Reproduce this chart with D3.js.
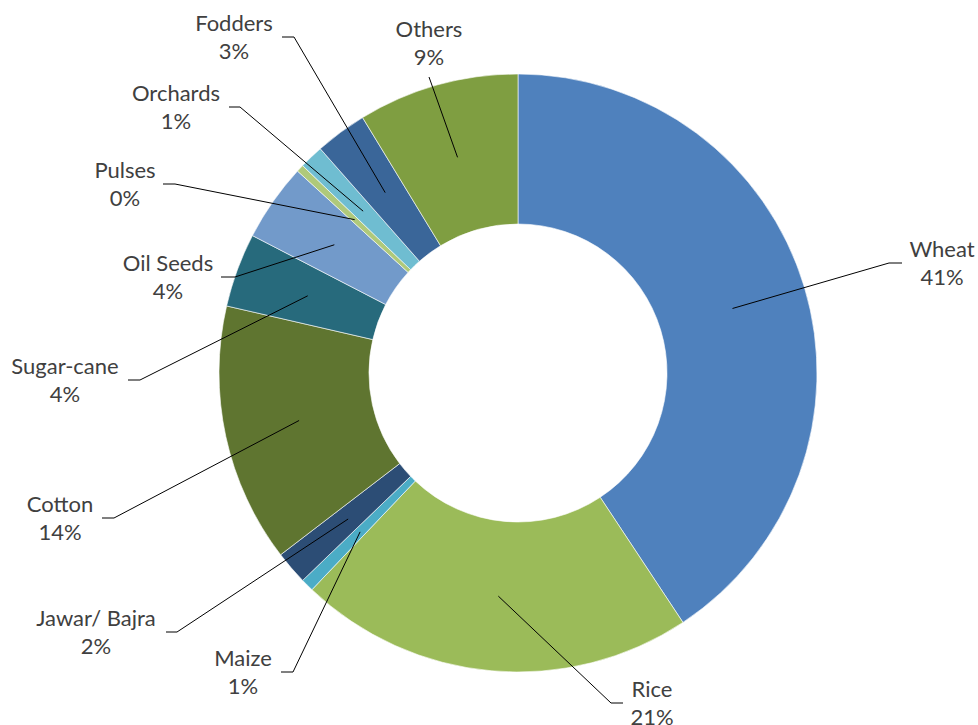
<!DOCTYPE html>
<html>
<head>
<meta charset="utf-8">
<script src="https://cdn.jsdelivr.net/npm/d3@7"></script>
<style>
  html, body { margin: 0; padding: 0; background: #fff; }
  svg { display: block; }
  text { font-family: Lato, "Open Sans", sans-serif; }
</style>
</head>
<body>
<svg id="chart" width="978" height="725"></svg>
<script>
// ---- data ----
const categories = ["Wheat", "Rice", "Maize", "Jawar/ Bajra", "Cotton", "Sugar-cane",
                    "Oil Seeds", "Pulses", "Orchards", "Fodders", "Others"];
const values = [40.7, 21.4, 0.7, 1.8, 14.0, 4.0, 4.2, 0.4, 1.3, 2.8, 8.7];
const colors = ["#4F81BD", "#9BBB59", "#4BACC6", "#2C4D75", "#5F7530", "#276A7C",
                "#729ACA", "#AFC97A", "#6FBDD1", "#3A6699", "#7F9E41"];

// ---- label layout (elbow point, end of horizontal tick, text centre x, first baseline) ----
const labelLayout = [
  {ex: 889, ey: 263, hx: 902, tx: 942, ty: 257},
  {ex: 611, ey: 703, hx: 623, tx: 652, ty: 697},
  {ex: 293, ey: 672, hx: 281, tx: 243, ty: 666},
  {ex: 177, ey: 632, hx: 166, tx: 96,  ty: 626},
  {ex: 114, ey: 518, hx: 102, tx: 60,  ty: 512},
  {ex: 140, ey: 380, hx: 128, tx: 65,  ty: 374},
  {ex: 235, ey: 277, hx: 221, tx: 168, ty: 271},
  {ex: 175, ey: 184, hx: 163, tx: 125, ty: 178},
  {ex: 240, ey: 107, hx: 229, tx: 176, ty: 101},
  {ex: 294, ey: 37,  hx: 282, tx: 234, ty: 31},
  {ex: 429, ey: 77,  hx: 429, tx: 429, ty: 37}
];

const cx = 518, cy = 373, rOuter = 299, rInner = 149;
const svg = d3.select("#chart");
const g = svg.append("g").attr("transform", `translate(${cx},${cy})`);

const total = d3.sum(values);
const pie = d3.pie().sort(null).value(d => d)(values);
const arc = d3.arc().innerRadius(rInner).outerRadius(rOuter);

g.selectAll("path.slice")
  .data(pie)
  .join("path")
  .attr("class", "slice")
  .attr("d", arc)
  .attr("fill", (d, i) => colors[i])
  .attr("stroke", "#ffffff")
  .attr("stroke-width", 0.6);

// leader lines
const lines = svg.append("g");
pie.forEach((d, i) => {
  const c = arc.centroid(d);
  const L = labelLayout[i];
  const pts = [[c[0] + cx, c[1] + cy], [L.ex, L.ey], [L.hx, L.ey]];
  lines.append("path")
    .attr("d", d3.line()(pts))
    .attr("fill", "none")
    .attr("stroke", "#000")
    .attr("stroke-width", 1);
});

// labels
const labels = svg.append("g");
pie.forEach((d, i) => {
  const L = labelLayout[i];
  const t = labels.append("text")
    .attr("x", L.tx)
    .attr("y", L.ty)
    .attr("text-anchor", "middle")
    .attr("font-size", 22)
    .attr("fill", "#404040");
  t.append("tspan").attr("x", L.tx).attr("y", L.ty).text(categories[i]);
  t.append("tspan").attr("x", L.tx).attr("y", L.ty + 28.3)
    .text(Math.round(values[i] / total * 100) + "%");
});
</script>
</body>
</html>
